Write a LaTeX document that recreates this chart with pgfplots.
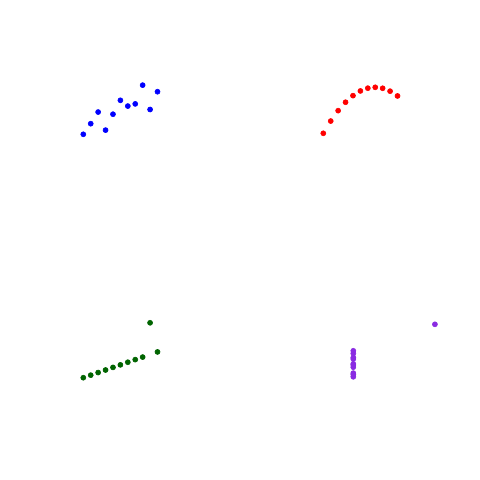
\documentclass[border=0pt]{standalone}
\usepackage{pgfplots}
\pgfplotsset{compat=1.18}
\definecolor{dgreen}{RGB}{0,100,0}
\definecolor{bviolet}{RGB}{138,43,226}
\pgfplotsset{
  quad/.style={hide axis, clip=false, anchor=south west,
    x=0.1855cm, y=0.18675cm},
  dots/.style={only marks, mark=*, mark size=1.8pt}
}
\begin{document}
\begin{tikzpicture}
\fill[white] (0,0) rectangle (12cm,12cm);
\path[use as bounding box] (0,0) rectangle (12cm,12cm);
% I
\begin{axis}[quad, at={(2.0825cm,8.6425cm)}, xmin=4, xmax=14, ymin=4.26, ymax=10.84]
\addplot[dots, color=blue, mark options={fill=blue}] coordinates {
(10,8.04) (8,6.95) (13,7.58) (9,8.81) (11,8.33) (14,9.96) (6,7.24) (4,4.26) (12,10.84) (7,4.82) (5,5.68)};
\end{axis}
% II
\begin{axis}[quad, at={(8.0825cm,8.6675cm)}, xmin=4, xmax=14, ymin=3.10, ymax=9.26]
\addplot[dots, color=red, mark options={fill=red}] coordinates {
(10,9.14) (8,8.14) (13,8.74) (9,8.77) (11,9.26) (14,8.10) (6,6.13) (4,3.10) (12,9.13) (7,7.26) (5,4.74)};
\end{axis}
% III
\begin{axis}[quad, at={(2.0825cm,2.5575cm)}, xmin=4, xmax=14, ymin=5.39, ymax=12.74]
\addplot[dots, color=dgreen, mark options={fill=dgreen}] coordinates {
(10,7.46) (8,6.77) (13,12.74) (9,7.11) (11,7.81) (14,8.84) (6,6.08) (4,5.39) (12,8.15) (7,6.42) (5,5.73)};
\end{axis}
% IV
\begin{axis}[quad, y=0.181cm, at={(8.8325cm,2.58cm)}, xmin=8, xmax=19, ymin=5.25, ymax=12.5]
\addplot[dots, color=bviolet, mark options={fill=bviolet}] coordinates {
(8,6.58) (8,5.76) (8,7.71) (8,8.84) (8,8.47) (8,7.04) (8,5.25) (19,12.50) (8,5.56) (8,7.91) (8,6.89)};
\end{axis}
\end{tikzpicture}
\end{document}
